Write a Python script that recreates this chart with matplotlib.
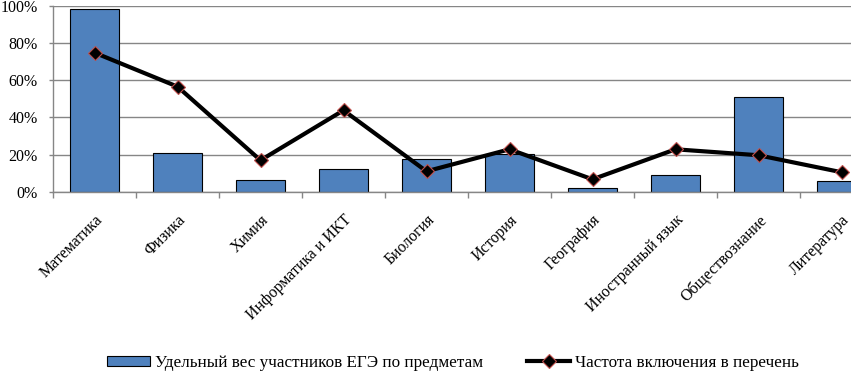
import numpy as np
import matplotlib.pyplot as plt
import matplotlib.transforms as mtransforms

plt.rcParams['font.family'] = ['Liberation Serif', 'DejaVu Serif']

# Данные
predmety = ['Математика', 'Физика', 'Химия', 'Информатика и ИКТ', 'Биология',
            'История', 'География', 'Иностранный язык', 'Обществознание', 'Литература']
ves = [97.9, 20.7, 6.3, 12.2, 17.5, 20.2, 2.0, 9.0, 50.8, 5.7]
chastota = [74.7, 56.5, 17.0, 43.8, 11.1, 22.9, 6.8, 22.9, 19.7, 10.6]

fig = plt.figure(figsize=(8.51, 3.73), dpi=100)
# область графика шире рисунка: последний столбец обрезан, как в исходнике
ax = fig.add_axes([53 / 851, 1 - 192 / 373, 830 / 851, 186.5 / 373])

x = np.arange(len(predmety))
bars = ax.bar(x, ves, width=0.58, color='#4F81BD', edgecolor='black', linewidth=0.8,
              label='Удельный вес участников ЕГЭ по предметам', zorder=2)
line, = ax.plot(x, chastota, color='black', linewidth=3, marker='D', markersize=7,
                markerfacecolor='black', markeredgecolor='#C0504D', markeredgewidth=0.8,
                label='Частота включения в перечень', zorder=3)

ax.set_xlim(-0.5, len(predmety) - 0.5)
ax.set_ylim(0, 100)
ax.set_yticks(np.arange(0, 101, 20))
ax.set_yticklabels([f'{v}%' for v in range(0, 101, 20)], fontsize=11.5)
ax.yaxis.grid(True, color='#868686', linewidth=1)
ax.set_axisbelow(True)

# подписи категорий под углом 45°
ax.set_xticks(x)
ax.set_xticklabels([])
lab_tr = ax.get_xaxis_transform() + mtransforms.ScaledTranslation(0, -20 / 100, fig.dpi_scale_trans)
for i, name in enumerate(predmety):
    ax.text(i, 0, name, transform=lab_tr, fontsize=11.5, rotation=45,
            ha='right', va='top', rotation_mode='anchor', clip_on=False)

ax.set_xticks(np.arange(-0.5, len(predmety), 1), minor=True)
ax.tick_params(axis='x', which='major', length=0)
ax.tick_params(axis='x', which='minor', length=4, color='#868686', width=1)
ax.tick_params(axis='y', length=3, color='#868686', width=1, pad=8)

for s in ['top', 'right']:
    ax.spines[s].set_visible(False)
for s in ['left', 'bottom']:
    ax.spines[s].set_color('#868686')
    ax.spines[s].set_linewidth(1)

fig.legend([bars, line], [bars.get_label(), line.get_label()], loc='center',
           bbox_to_anchor=(453 / 851, 1 - 363 / 373), ncol=2,
           frameon=False, fontsize=12.3, handlelength=2.5, handleheight=0.55,
           handletextpad=0.3, columnspacing=2.6)

fig.savefig('out.png', dpi=100)
